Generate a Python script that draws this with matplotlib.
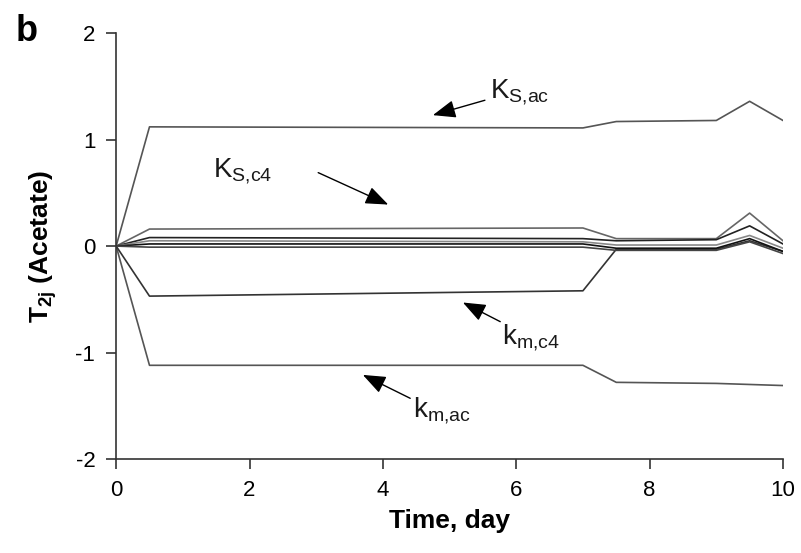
import matplotlib
matplotlib.use("Agg")
import matplotlib.pyplot as plt

plt.rcParams['font.family'] = ['Liberation Sans', 'DejaVu Sans']
plt.rcParams['mathtext.fontset'] = 'custom'
plt.rcParams['mathtext.rm'] = 'Liberation Sans'
plt.rcParams['mathtext.bf'] = 'Liberation Sans:bold'
plt.rcParams['axes.unicode_minus'] = False

time = [0, 0.5, 7, 7.5, 9, 9.5, 10]

ks_ac = [0, 1.12, 1.11, 1.17, 1.18, 1.36, 1.18]
km_ac = [0, -1.12, -1.12, -1.28, -1.29, -1.30, -1.31]
km_c4 = [0, -0.47, -0.42, -0.03, -0.03, 0.05, -0.05]
ks_c4 = [0, 0.16, 0.17, 0.07, 0.07, 0.31, 0.05]
other_1 = [0, 0.08, 0.07, 0.05, 0.06, 0.19, 0.02]
other_2 = [0, 0.05, 0.04, 0.01, 0.01, 0.10, -0.02]
other_3 = [0, 0.02, 0.02, -0.02, -0.02, 0.07, -0.05]
other_4 = [0, -0.01, -0.01, -0.04, -0.04, 0.04, -0.07]

series = [ks_ac, km_ac, km_c4, ks_c4, other_1, other_2, other_3, other_4]
colors = ['#555555', '#555555', '#333333', '#666666', '#222222', '#888888', '#111111', '#444444']

fig = plt.figure(figsize=(8.01, 5.53), dpi=100)
ax = fig.add_axes([0.145, 0.17, 0.8325, 0.77])

for vals, c in zip(series, colors):
    ax.plot(time, vals, color=c, lw=1.2)

ax.set_xlim(0, 10)
ax.set_ylim(-2, 2)
ax.set_xticks([0, 2, 4, 6, 8, 10])
ax.set_yticks([-2, -1, 0, 1, 2])
for s in ['top', 'right']:
    ax.spines[s].set_visible(False)
for s in ['left', 'bottom']:
    ax.spines[s].set_linewidth(1.2)
    ax.spines[s].set_color('#333333')
ax.tick_params(direction='out', length=7, width=1.2, labelsize=16, pad=8, color='#333333')

ax.set_xlabel('Time, day', fontsize=19, fontweight='bold', labelpad=6)
ax.set_ylabel(r'$\mathbf{T_{2j}}$ (Acetate)', fontsize=19, fontweight='bold', labelpad=12)
fig.text(0.02, 0.925, 'b', fontsize=26, fontweight='bold')

# arrows pointing at the labelled curves
arrow = dict(arrowstyle='-|>,head_length=1.4,head_width=0.55', color='black', lw=1.0,
             shrinkA=0, shrinkB=0)
txt = dict(fontsize=20, color='#1a1a1a', va='center', ha='left')

ax.annotate('', xy=(4.75, 1.23), xytext=(5.53, 1.37), arrowprops=arrow)
ax.text(5.6, 1.45, r'$\mathregular{K_{S{,}ac}}$', **txt)

ax.annotate('', xy=(4.08, 0.39), xytext=(3.03, 0.69), arrowprops=arrow)
ax.text(1.45, 0.70, r'$\mathregular{K_{S{,}c4}}$', **txt)

ax.annotate('', xy=(5.2, -0.53), xytext=(5.76, -0.71), arrowprops=arrow)
ax.text(5.78, -0.86, r'$\mathregular{k_{m{,}c4}}$', **txt)

ax.annotate('', xy=(3.7, -1.21), xytext=(4.41, -1.43), arrowprops=arrow)
ax.text(4.45, -1.55, r'$\mathregular{k_{m{,}ac}}$', **txt)

fig.savefig('out.png', dpi=100)
